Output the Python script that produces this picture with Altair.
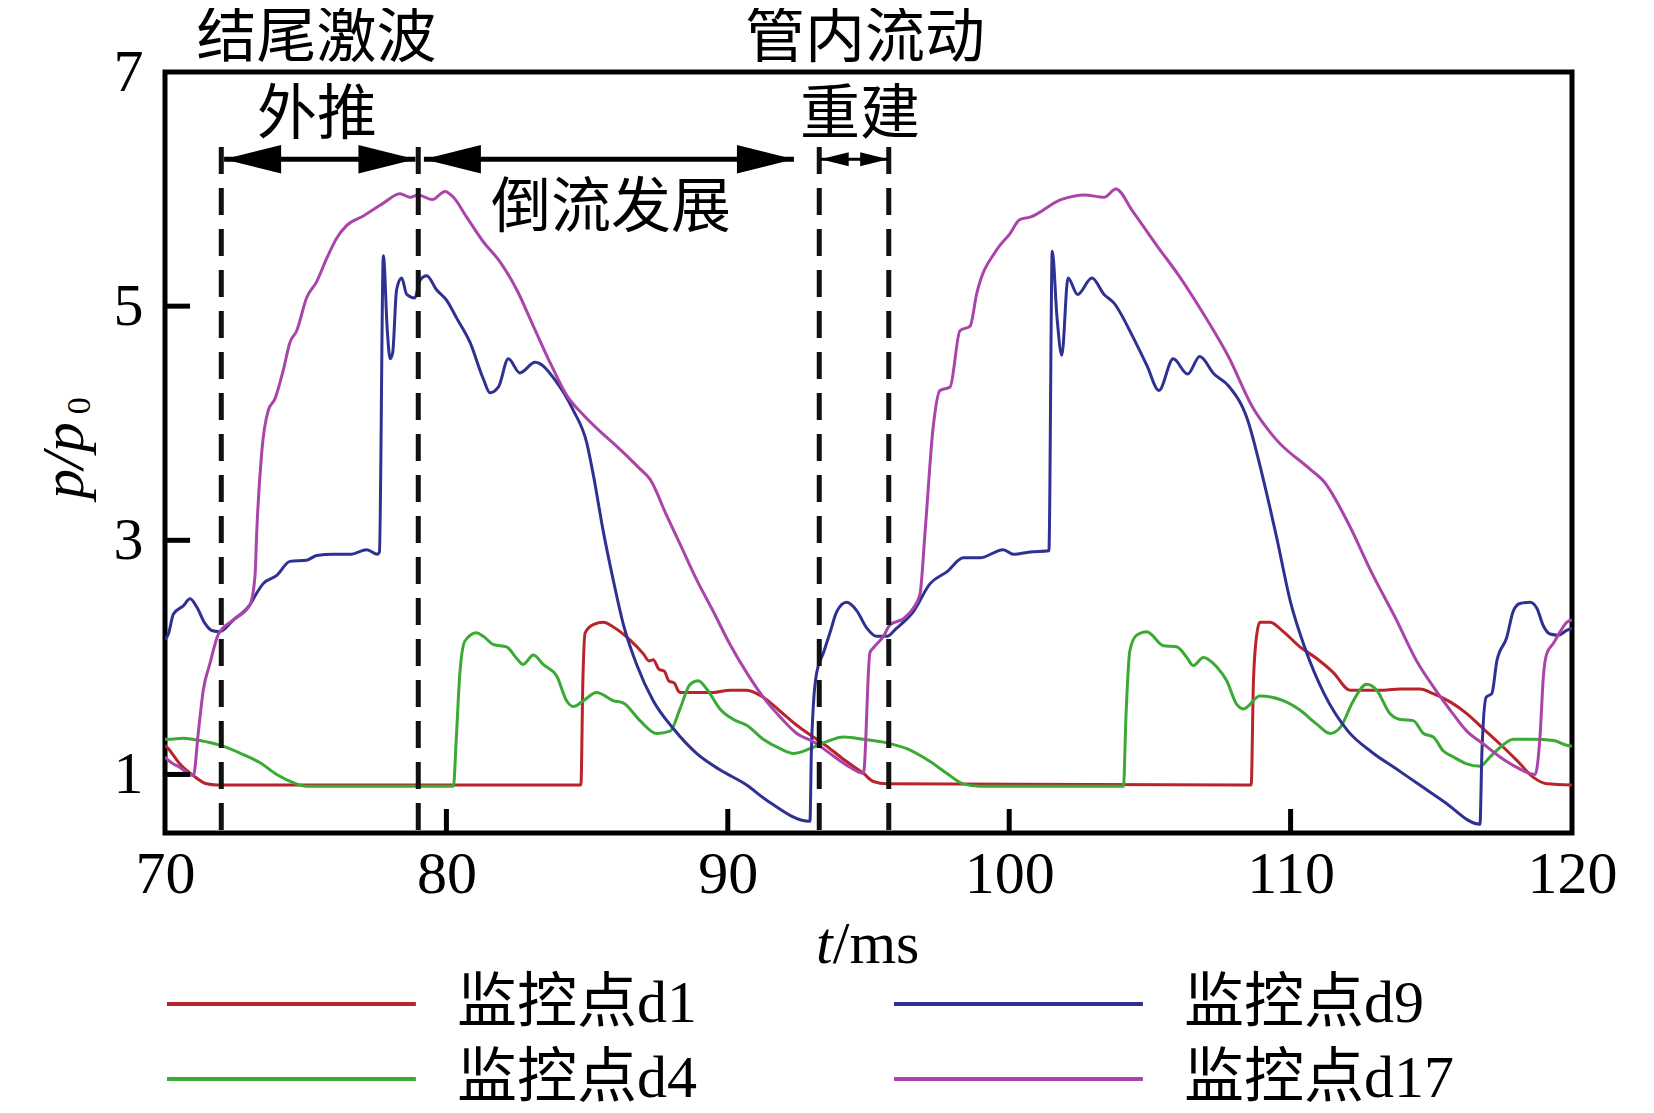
import altair as alt
import pandas as pd

# ---------------- data ----------------
d1_t = [70.0, 70.12, 70.53, 71.01, 71.48, 71.84, 84.78, 84.85, 84.93, 85.22, 85.58, 85.93, 86.52,
        87.0, 87.2, 87.35, 87.55, 87.75, 87.9, 88.1, 88.25, 88.3, 88.89, 89.49, 90.08, 90.67, 91.26,
        91.86, 92.45, 93.04, 93.63, 94.22, 94.82, 95.17, 95.65, 108.6, 108.68, 108.8, 108.91, 109.27,
        109.74, 110.33, 110.93, 111.52, 112.11, 112.7, 113.3, 113.89, 114.6, 115.07, 115.67, 116.26,
        116.85, 117.44, 118.04, 118.63, 119.1, 120.0]
d1_p = [1.25, 1.22, 1.09, 0.99, 0.92, 0.91, 0.91, 1.8, 2.21, 2.28, 2.30, 2.26, 2.15,
        2.03, 1.97, 1.98, 1.90, 1.88, 1.80, 1.78, 1.71, 1.70, 1.70, 1.70, 1.72, 1.72, 1.66,
        1.54, 1.42, 1.32, 1.22, 1.11, 1.01, 0.94, 0.92, 0.91, 1.8, 2.2, 2.30, 2.30,
        2.22, 2.09, 1.99, 1.87, 1.72, 1.72, 1.72, 1.73, 1.73, 1.69, 1.62, 1.52,
        1.39, 1.26, 1.12, 0.975, 0.92, 0.91]

d9_t = [70.0, 70.12, 70.3, 70.65, 70.89, 71.13, 71.42, 71.66, 71.95, 72.43, 73.02, 73.26, 73.49,
        73.97, 74.44, 75.03, 75.39, 75.98, 76.57, 77.17, 77.55, 77.62, 77.76, 77.9, 78.0, 78.09,
        78.23, 78.41, 78.59, 78.88, 79.06, 79.3, 79.65, 80.01, 80.36, 80.84, 81.31, 81.55, 81.85,
        82.2, 82.61, 83.15, 83.92, 84.51, 84.99, 85.22, 85.58, 85.93, 86.29, 86.76, 87.35, 88.07,
        88.89, 89.72, 90.67, 91.38, 92.92, 92.97, 93.04, 93.16, 93.4, 93.63, 93.87, 94.22, 94.58,
        94.94, 95.29, 95.65, 96.0, 96.59, 97.19, 97.78, 98.37, 98.96, 99.79, 100.15, 100.74,
        101.41, 101.53, 101.7, 101.87, 102.09, 102.43, 102.94, 103.37, 103.71, 104.39, 104.9,
        105.32, 105.83, 106.34, 106.77, 107.28, 107.79, 108.47, 108.98, 109.49, 110.0, 110.51,
        111.19, 112.04, 112.89, 113.74, 114.59, 115.44, 116.73, 116.8, 116.95, 117.15, 117.33,
        117.68, 117.92, 118.15, 118.51, 118.75, 118.98, 119.22, 119.52, 119.81, 120.0]
d9_p = [2.15, 2.20, 2.37, 2.44, 2.50, 2.43, 2.29, 2.23, 2.22, 2.32, 2.45, 2.55, 2.63,
        2.70, 2.82, 2.83, 2.87, 2.88, 2.88, 2.92, 2.88, 2.90, 5.43, 4.79, 4.55, 4.60,
        5.14, 5.24, 5.10, 5.07, 5.22, 5.26, 5.14, 5.05, 4.90, 4.69, 4.38, 4.26, 4.31,
        4.55, 4.43, 4.52, 4.35, 4.11, 3.83, 3.56, 3.07, 2.66, 2.28, 1.94, 1.63, 1.39,
        1.18, 1.04, 0.91, 0.78, 0.60, 1.20, 1.59, 1.87, 2.04, 2.21, 2.39, 2.47, 2.40,
        2.25, 2.18, 2.18, 2.25, 2.39, 2.63, 2.73, 2.85, 2.85, 2.92, 2.88, 2.90,
        2.91, 5.47, 4.90, 4.58, 5.24, 5.10, 5.24, 5.10, 5.03, 4.74, 4.49,
        4.28, 4.55, 4.42, 4.57, 4.42, 4.32, 4.03, 3.57, 3.04, 2.47, 2.08,
        1.69, 1.37, 1.19, 1.05, 0.91, 0.77, 0.575, 1.20, 1.66, 1.69, 1.97,
        2.17, 2.40, 2.46, 2.47, 2.42, 2.27, 2.20, 2.19, 2.23, 2.25]

d4_t = [70.0, 70.12, 70.65, 71.24, 71.95, 72.78, 73.38, 73.97, 74.56, 75.03, 80.25, 80.35, 80.48,
        80.66, 81.07, 81.31, 81.67, 82.14, 82.5, 82.73, 83.09, 83.44, 83.92, 84.27, 84.51, 84.87,
        85.34, 85.93, 86.29, 86.88, 87.47, 87.95, 88.3, 88.66, 88.95, 89.25, 89.72, 90.2, 90.67,
        91.26, 91.86, 92.33, 92.92, 93.51, 94.11, 94.82, 95.65, 96.36, 97.19, 97.78, 98.37, 98.96,
        104.06, 104.15, 104.29, 104.53, 104.89, 105.48, 105.95, 106.31, 106.54, 106.9, 107.37,
        107.73, 108.08, 108.32, 108.91, 109.74, 110.33, 110.93, 111.4, 111.76, 112.23, 112.7,
        113.06, 113.53, 113.89, 114.36, 114.72, 115.07, 115.43, 115.78, 116.26, 116.73, 117.09,
        117.44, 117.92, 118.63, 119.34, 119.81, 120.0]
d4_p = [1.30, 1.30, 1.31, 1.29, 1.25, 1.17, 1.10, 1.00, 0.93, 0.90, 0.90, 1.30, 1.87,
        2.14, 2.21, 2.18, 2.11, 2.09, 1.99, 1.94, 2.02, 1.94, 1.84, 1.63, 1.58, 1.63,
        1.70, 1.63, 1.61, 1.46, 1.35, 1.37, 1.56, 1.77, 1.80, 1.73, 1.56, 1.47, 1.42,
        1.30, 1.22, 1.18, 1.22, 1.28, 1.32, 1.30, 1.27, 1.22, 1.11, 1.01, 0.92, 0.90,
        0.90, 1.50, 2.06, 2.19, 2.22, 2.10, 2.09, 2.00, 1.93, 2.00, 1.92,
        1.80, 1.60, 1.56, 1.67, 1.63, 1.55, 1.43, 1.35, 1.40, 1.63, 1.77,
        1.72, 1.52, 1.47, 1.46, 1.35, 1.32, 1.20, 1.15, 1.09, 1.07, 1.15,
        1.23, 1.30, 1.30, 1.29, 1.25, 1.24]

d17_t = [70.0, 70.12, 70.53, 71.01, 71.18, 71.36, 71.6, 71.9, 72.43, 73.02, 73.2, 73.26, 73.44,
         73.67, 73.91, 74.2, 74.44, 74.68, 75.03, 75.39, 75.75, 76.1, 76.46, 77.05, 77.76, 78.35,
         78.71, 79.0, 79.5, 79.95, 80.25, 80.72, 81.31, 81.9, 82.5, 83.09, 83.68, 84.27, 84.87,
         85.46, 85.93, 86.88, 87.24, 87.83, 88.3, 88.9, 89.49, 90.08, 90.67, 91.26, 91.86, 92.45,
         93.04, 93.63, 94.22, 94.82, 95.05, 95.17, 95.53, 95.77, 96.24, 96.59, 96.83, 97.01, 97.3,
         97.54, 97.9, 98.25, 98.61, 98.84, 99.55, 100.03, 100.38, 100.74, 101.84, 102.69, 103.37,
         103.79, 104.39, 105.24, 106.09, 106.94, 107.79, 108.64, 109.49, 110.68, 111.19, 112.04,
         112.89, 113.74, 114.48, 115.07, 115.67, 116.26, 116.85, 117.44, 118.04, 118.69, 118.87,
         118.98, 119.1, 119.34, 119.58, 119.81, 120.0]
d17_p = [1.15, 1.12, 1.06, 0.99, 1.35, 1.72, 1.95, 2.20, 2.32, 2.45, 2.70, 3.07, 3.76,
         4.11, 4.21, 4.45, 4.69, 4.79, 5.07, 5.21, 5.41, 5.58, 5.69, 5.77, 5.88, 5.96,
         5.93, 5.95, 5.91, 5.98, 5.93, 5.76, 5.55, 5.38, 5.14, 4.83, 4.52, 4.24, 4.07,
         3.93, 3.83, 3.61, 3.52, 3.21, 2.97, 2.66, 2.39, 2.11, 1.87, 1.66, 1.49, 1.35,
         1.28, 1.18, 1.08, 1.01, 2.04, 2.08, 2.18, 2.28, 2.33, 2.42, 2.54, 3.07, 3.97,
         4.28, 4.31, 4.79, 4.83, 5.10, 5.48, 5.62, 5.74, 5.76, 5.91, 5.95, 5.93,
         6.00, 5.81, 5.52, 5.24, 4.92, 4.57, 4.14, 3.86, 3.61, 3.50, 3.15,
         2.72, 2.33, 1.97, 1.75, 1.55, 1.37, 1.26, 1.15, 1.06, 1.00, 1.35,
         1.83, 2.03, 2.12, 2.22, 2.30, 2.32]

# legend fills column by column: d1, d4 | d9, d17
series_names = ["监控点d1", "监控点d4", "监控点d9", "监控点d17"]
series_colors = ["#b8242a", "#3aaa35", "#2e3192", "#aa44aa"]
series_t = [d1_t, d4_t, d9_t, d17_t]
series_p = [d1_p, d4_p, d9_p, d17_p]

x_ticks = [70, 80, 90, 100, 110, 120]
y_ticks = [1, 3, 5, 7]
inner_x_ticks = [80, 90, 100, 110]
inner_y_ticks = [1, 3, 5]

phase_lines = [72.0, 79.0, 93.25, 95.72]
arrow_start = [72.1, 79.2, 93.3]
arrow_end = [78.9, 92.35, 95.7]
arrow_big = [True, True, False]
arrow_level = 6.255

ann_text = ["结尾激波", "管内流动", "外推", "重建", "倒流发展"]
ann_t = [75.38, 94.88, 75.4, 94.7, 85.85]
ann_p = [7.28, 7.28, 6.62, 6.62, 5.83]

# ---------------- tables ----------------
rows = []
for name, ts, ps in zip(series_names, series_t, series_p):
    for i, (t, p) in enumerate(zip(ts, ps)):
        rows.append({"series": name, "t": t, "p": p, "i": i})
df = pd.DataFrame(rows)

SERIF = "'Liberation Serif', 'Noto Sans CJK SC', serif"
CJK = "'Noto Sans CJK SC', sans-serif"

xs = alt.Scale(domain=[70, 120], nice=False, zero=False)
ys = alt.Scale(domain=[0.5, 7], nice=False, zero=False)
xa = alt.Axis(values=x_ticks, title=None, labelPadding=12, labelFlush=False)
ya = alt.Axis(values=y_ticks, title=None, labelPadding=22, labelFlush=False)


def X(field):
    return alt.X(field, type="quantitative", scale=xs, axis=xa)


def Y(field):
    return alt.Y(field, type="quantitative", scale=ys, axis=ya)


lines = alt.Chart(df).mark_line(strokeWidth=3, clip=True, interpolate="monotone").encode(
    x=X("t"),
    y=Y("p"),
    color=alt.Color("series:N",
                    scale=alt.Scale(domain=series_names, range=series_colors),
                    legend=alt.Legend(orient="none", legendX=-28, legendY=902, columns=2,
                                      title=None, symbolType="M0,0L16,0", symbolSize=968,
                                      symbolStrokeWidth=4, labelFont=SERIF, labelFontSize=60,
                                      labelColor="black", labelLimit=500, labelOffset=260,
                                      columnPadding=167, rowPadding=15, padding=0)),
    order="i:Q",
)

# inward tick marks
ytick_df = pd.DataFrame({"p": inner_y_ticks, "t0": [70] * 3, "t1": [70.89] * 3})
yticks = alt.Chart(ytick_df).mark_rule(color="black", strokeWidth=5).encode(
    x=X("t0"), x2="t1:Q", y=Y("p"))
xtick_df = pd.DataFrame({"t": inner_x_ticks, "p0": [0.5] * 4, "p1": [0.705] * 4})
xticks = alt.Chart(xtick_df).mark_rule(color="black", strokeWidth=5).encode(
    x=X("t"), y=Y("p1"), y2="p0:Q")

# dashed phase boundaries
dash_df = pd.DataFrame({"t": phase_lines, "top": [6.36] * 4, "bot": [0.5] * 4})
dashes = alt.Chart(dash_df).mark_rule(color="#111111", strokeWidth=5, strokeDash=[27, 14]).encode(
    x=X("t"), y=Y("top"), y2="bot:Q")

# arrows
arr_df = pd.DataFrame({"a": arrow_start, "b": arrow_end, "big": arrow_big,
                       "lv": [arrow_level] * 3})
arr_df["w"] = arr_df["big"].map({True: 5, False: 3})
arr_df["s"] = arr_df["big"].map({True: 3249, False: 784})
shafts = alt.Chart(arr_df).mark_rule(color="black").encode(
    x=X("a"), x2="b:Q", y=Y("lv"),
    strokeWidth=alt.StrokeWidth("w:Q", scale=None))
head_l = alt.Chart(arr_df).mark_point(shape="M0,0L2,-0.5L2,0.5Z", filled=True, color="black",
                                      opacity=1, strokeWidth=0).encode(
    x=X("a"), y=Y("lv"), size=alt.Size("s:Q", scale=None))
head_r = alt.Chart(arr_df).mark_point(shape="M0,0L-2,-0.5L-2,0.5Z", filled=True, color="black",
                                      opacity=1, strokeWidth=0).encode(
    x=X("b"), y=Y("lv"), size=alt.Size("s:Q", scale=None))

# annotations
ann_df = pd.DataFrame({"text": ann_text, "t": ann_t, "p": ann_p})
anns = alt.Chart(ann_df).mark_text(font=CJK, fontSize=60, color="black",
                                   baseline="middle", align="center").encode(
    x=X("t"), y=Y("p"), text="text:N")

# axis titles
xt1 = alt.Chart(pd.DataFrame({"t": [93.73], "p": [-0.46], "s": ["t"]})).mark_text(
    font=SERIF, fontSize=60, fontStyle="italic", align="right", baseline="middle", color="black").encode(
    x=X("t"), y=Y("p"), text="s:N")
xt2 = alt.Chart(pd.DataFrame({"t": [93.73], "p": [-0.46], "s": ["/ms"]})).mark_text(
    font=SERIF, fontSize=60, align="left", baseline="middle", color="black").encode(
    x=X("t"), y=Y("p"), text="s:N")
yt1 = alt.Chart(pd.DataFrame({"t": [66.45], "p": [3.68], "s": ["p/p"]})).mark_text(
    font=SERIF, fontSize=60, fontStyle="italic", align="center", baseline="middle", angle=270,
    color="black").encode(
    x=X("t"), y=Y("p"), text="s:N")
yt2 = alt.Chart(pd.DataFrame({"t": [66.98], "p": [4.15], "s": ["0"]})).mark_text(
    font=SERIF, fontSize=34, align="center", baseline="middle", angle=270, color="black").encode(
    x=X("t"), y=Y("p"), text="s:N")

chart = alt.layer(lines, dashes, yticks, xticks, shafts, head_l, head_r, anns,
                  xt1, xt2, yt1, yt2).properties(
    width=1407, height=761,
    autosize=alt.AutoSizeParams(type="none"),
    padding={"left": 157, "top": 64, "right": 70, "bottom": 280},
    background="white",
).configure_view(stroke="black", strokeWidth=5).configure_axis(
    grid=False, domain=False, ticks=False, tickSize=0,
    labelFont=SERIF, labelFontSize=60, labelColor="black",
)

chart.save("out.html", embed_options={"renderer": "svg", "actions": False})
